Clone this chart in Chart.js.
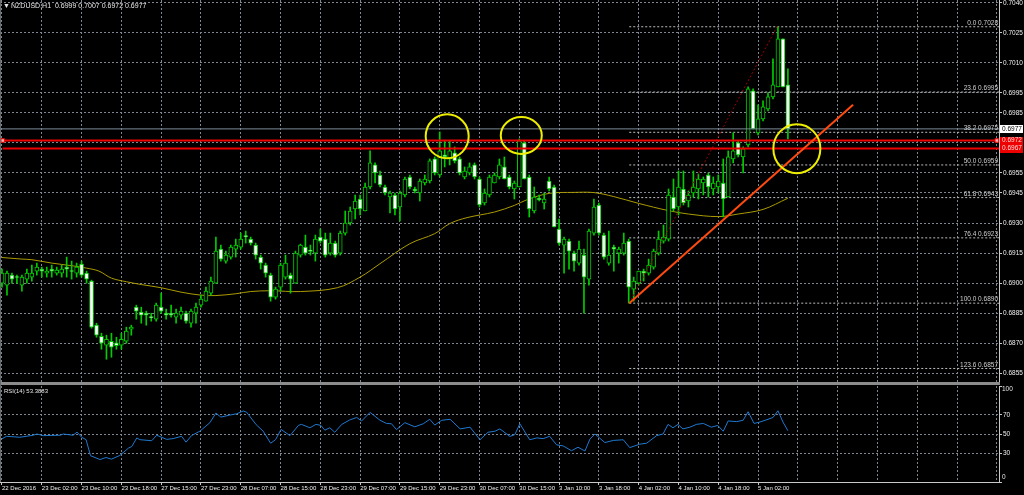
<!DOCTYPE html>
<html>
<head>
<meta charset="utf-8">
<title>NZDUSD H1</title>
<script src="https://cdn.jsdelivr.net/npm/chart.js@4.4.1/dist/chart.umd.min.js"></script>
<style>
  html, body { margin: 0; padding: 0; background: #000; overflow: hidden; }
  #wrap { position: relative; width: 1024px; height: 495px; }
  #priceChart { position: absolute; left: 0; top: 0; }
  #sep { position: absolute; left: 0; top: 382px; width: 1000px; height: 3px; background: #8c8c8c; }
  #edge { position: absolute; left: 0; top: 0; width: 1px; height: 482px; background: #6a6a6a; }
  #rsiChart { position: absolute; left: 0; top: 385px; }
</style>
</head>
<body>
<div id="wrap">
  <canvas id="priceChart" width="1024" height="382"></canvas>
  <div id="sep"></div>
  <canvas id="rsiChart" width="1024" height="110"></canvas>
  <div id="edge"></div>
</div>
<script>
// tick labels
const priceTicks = [0.7040, 0.7025, 0.7010, 0.6995, 0.6985, 0.6970, 0.6955, 0.6945, 0.6930, 0.6915, 0.6900, 0.6885, 0.6870, 0.6855];
const rsiTicks = [0, 30, 50, 70, 100];
const timeLabels = ['22 Dec 2016', '23 Dec 02:00', '23 Dec 10:00', '23 Dec 18:00', '27 Dec 15:00', '27 Dec 23:00',
  '28 Dec 07:00', '28 Dec 15:00', '28 Dec 23:00', '29 Dec 07:00', '29 Dec 15:00', '29 Dec 23:00', '30 Dec 07:00',
  '30 Dec 15:00', '3 Jan 10:00', '3 Jan 18:00', '4 Jan 02:00', '4 Jan 10:00', '4 Jan 18:00', '5 Jan 02:00'];

// hourly candles
const opens = [
  0.6900, 0.6899, 0.6904, 0.69032, 0.6899, 0.6902, 0.6903, 0.6906, 0.6907, 0.6905,
  0.6907, 0.6905, 0.6905, 0.6908, 0.69062, 0.6905, 0.69095, 0.6905, 0.6901, 0.6879,
  0.68735, 0.6869, 0.6871, 0.68702, 0.6869, 0.6871, 0.6877, 0.6888, 0.68855, 0.6885,
  0.68832, 0.6882, 0.6888, 0.6885, 0.6885, 0.6883, 0.6884, 0.6885, 0.6880, 0.6885,
  0.6889, 0.6891, 0.6895, 0.6900, 0.6917, 0.6911, 0.6913, 0.6917, 0.6918, 0.69235,
  0.6922, 0.6919, 0.6913, 0.6909, 0.6904, 0.6893, 0.6898, 0.6903, 0.6904, 0.6900,
  0.6914, 0.6918, 0.69165, 0.6915, 0.6923, 0.6922, 0.6915, 0.6920, 0.6915, 0.6925,
  0.6930, 0.6937, 0.6942, 0.6936, 0.6948, 0.6959, 0.6954, 0.6948, 0.6943, 0.6944,
  0.6938, 0.6944, 0.6953, 0.6947, 0.6945, 0.6950, 0.6951, 0.6962, 0.6954, 0.6964,
  0.6962, 0.6965, 0.6962, 0.6953, 0.6955, 0.6959, 0.6952, 0.6940, 0.6944, 0.6950,
  0.6953, 0.6958, 0.6953, 0.6947, 0.6948, 0.6970, 0.6953, 0.6936, 0.69425, 0.6940,
  0.6951, 0.6948, 0.6927, 0.6919, 0.6921, 0.6915, 0.6910, 0.6914, 0.6902, 0.6925,
  0.6939, 0.6924, 0.6910, 0.6918, 0.6915, 0.6915, 0.6921, 0.6897, 0.6900, 0.6906,
  0.6905, 0.6908, 0.6915, 0.6921, 0.6922, 0.6943, 0.6938, 0.6947, 0.6941, 0.6945,
  0.6947, 0.6950, 0.6954, 0.6947, 0.6948, 0.6950, 0.6943, 0.6962, 0.6970, 0.6963,
  0.6969, 0.6996, 0.6975, 0.6982, 0.6987, 0.6993, 0.6998, 0.7022, 0.6999
];
const highs = [
  0.6907, 0.6906, 0.6905, 0.6904, 0.6904, 0.6907, 0.6909, 0.6910, 0.6908, 0.6908,
  0.6909, 0.6908, 0.6909, 0.6913, 0.6911, 0.6910, 0.6911, 0.6906, 0.69015, 0.6880,
  0.6875, 0.6874, 0.6875, 0.6873, 0.6875, 0.6878, 0.6879, 0.6889, 0.6888, 0.6886,
  0.6885, 0.6890, 0.6895, 0.6887, 0.6889, 0.6887, 0.6888, 0.6886, 0.6887, 0.6890,
  0.6894, 0.6898, 0.6903, 0.6923, 0.6919, 0.6916, 0.6919, 0.6922, 0.6925, 0.6926,
  0.6923, 0.6920, 0.6914, 0.6910, 0.6905, 0.6898, 0.6910, 0.6914, 0.6905, 0.6916,
  0.69195, 0.6924, 0.6919, 0.6924, 0.6927, 0.6925, 0.6925, 0.6921, 0.6926, 0.6936,
  0.6938, 0.6944, 0.6944, 0.6950, 0.6966, 0.6960, 0.6956, 0.6949, 0.6946, 0.6945,
  0.6946, 0.6953, 0.6954, 0.6948, 0.6952, 0.6954, 0.6962, 0.6963, 0.69755, 0.6971,
  0.6971, 0.6968, 0.6963, 0.6958, 0.6960, 0.6960, 0.6953, 0.6947, 0.6954, 0.6955,
  0.6962, 0.6963, 0.6954, 0.6951, 0.6972, 0.6971, 0.6954, 0.6948, 0.6944, 0.6945,
  0.6953, 0.6949, 0.6932, 0.6923, 0.6922, 0.6916, 0.6921, 0.6917, 0.6927, 0.6942,
  0.6940, 0.6925, 0.6926, 0.6919, 0.6918, 0.6925, 0.6922, 0.6903, 0.6906, 0.6907,
  0.6912, 0.6917, 0.6926, 0.6929, 0.6947, 0.6952, 0.6956, 0.6956, 0.6946, 0.6956,
  0.69545, 0.6953, 0.6955, 0.6953, 0.6954, 0.6962, 0.6966, 0.6975, 0.6971, 0.6968,
  0.6998, 0.6997, 0.6989, 0.6991, 0.6995, 0.7012, 0.7028, 0.7022, 0.7007
];
const lows = [
  0.6898, 0.6894, 0.6900, 0.6900, 0.6896, 0.6900, 0.6901, 0.6904, 0.6903, 0.6903,
  0.6903, 0.6904, 0.6903, 0.6903, 0.6902, 0.6903, 0.6903, 0.6900, 0.68775, 0.6873,
  0.6867, 0.6862, 0.6863, 0.6867, 0.6867, 0.6870, 0.6874, 0.6882, 0.6880, 0.6879,
  0.6881, 0.6881, 0.6885, 0.6882, 0.6883, 0.6880, 0.6882, 0.6880, 0.6878, 0.6880,
  0.6888, 0.6891, 0.6894, 0.6900, 0.6911, 0.6910, 0.6912, 0.6913, 0.6917, 0.6920,
  0.6919, 0.6912, 0.6907, 0.6903, 0.6891, 0.6892, 0.6896, 0.6902, 0.6895, 0.6900,
  0.6913, 0.6914, 0.6914, 0.6911, 0.6920, 0.6913, 0.6914, 0.6913, 0.6914, 0.6924,
  0.6929, 0.6932, 0.6934, 0.6936, 0.6947, 0.6950, 0.6948, 0.6944, 0.6935, 0.6934,
  0.6931, 0.6943, 0.6947, 0.6945, 0.6941, 0.6949, 0.6950, 0.6954, 0.6953, 0.6958,
  0.6959, 0.6960, 0.6954, 0.6952, 0.6954, 0.6952, 0.6938, 0.6939, 0.6943, 0.6950,
  0.6952, 0.6952, 0.6947, 0.6942, 0.6948, 0.6952, 0.6933, 0.6935, 0.6941, 0.6937,
  0.6946, 0.6928, 0.6919, 0.6905, 0.6907, 0.6906, 0.6909, 0.6885, 0.6899, 0.6924,
  0.6924, 0.6912, 0.6909, 0.6906, 0.6910, 0.6914, 0.6890, 0.6891, 0.6899, 0.6901,
  0.6904, 0.6907, 0.6914, 0.6920, 0.6921, 0.6936, 0.6934, 0.6939, 0.6938, 0.6943,
  0.6942, 0.6944, 0.6943, 0.6944, 0.6945, 0.6933, 0.6943, 0.6960, 0.6963, 0.6955,
  0.6968, 0.6977, 0.6974, 0.6981, 0.6986, 0.6992, 0.6998, 0.6998, 0.6972
];
const closes = [
  0.6905, 0.6905, 0.6902, 0.69028, 0.6903, 0.6905, 0.6905, 0.6908, 0.6906, 0.6906,
  0.6906, 0.69065, 0.6907, 0.6907, 0.69058, 0.6908, 0.6904, 0.6902, 0.6878, 0.6874,
  0.6870, 0.6872, 0.6868, 0.68688, 0.6872, 0.6876, 0.6878, 0.6886, 0.6884, 0.6884,
  0.68828, 0.6889, 0.6886, 0.6884, 0.6884, 0.6885, 0.6886, 0.6881, 0.6886, 0.6888,
  0.6892, 0.6896, 0.6901, 0.6916, 0.6912, 0.6914, 0.6918, 0.6919, 0.6922, 0.69232,
  0.6920, 0.6914, 0.6910, 0.6905, 0.6893, 0.6897, 0.6909, 0.6910, 0.6902, 0.6915,
  0.6919, 0.6915, 0.69158, 0.6922, 0.6921, 0.6914, 0.6920, 0.6914, 0.6925, 0.6930,
  0.6936, 0.6941, 0.6937, 0.6948, 0.6960, 0.6955, 0.6949, 0.6945, 0.6945, 0.6937,
  0.6945, 0.6952, 0.6948, 0.6946, 0.6951, 0.6952, 0.6961, 0.6955, 0.6966, 0.6963,
  0.6966, 0.6961, 0.6955, 0.6956, 0.6958, 0.6953, 0.6939, 0.6945, 0.6953, 0.6954,
  0.6959, 0.6952, 0.6948, 0.6950, 0.6971, 0.6952, 0.6937, 0.6943, 0.69415, 0.6942,
  0.6947, 0.6928, 0.6920, 0.6922, 0.6916, 0.6911, 0.6917, 0.6903, 0.6926, 0.6938,
  0.6925, 0.6913, 0.6914, 0.6917, 0.6917, 0.6920, 0.6898, 0.6901, 0.6906, 0.6905,
  0.6909, 0.6916, 0.6922, 0.6923, 0.6944, 0.6937, 0.6948, 0.6940, 0.6944, 0.6948,
  0.6952, 0.6952, 0.6948, 0.6950, 0.6951, 0.6942, 0.6963, 0.6966, 0.6964, 0.6967,
  0.6997, 0.6977, 0.6982, 0.6988, 0.6993, 0.6999, 0.7022, 0.6998, 0.6977
];

// moving average, sampled along the yellow curve (bar index, price)
const maIdx = [0, 4, 6, 10, 14, 17, 19.5, 22, 25, 28, 32, 36, 40, 43, 47, 50, 54, 60, 67.4, 72, 76, 82, 87, 90,
  93.5, 99, 103, 105.6, 110, 115, 119, 123, 128, 134, 138, 144, 148, 153, 158];
const maVal = [0.69128, 0.6912, 0.69117, 0.6910, 0.69087, 0.69075, 0.6906, 0.69025, 0.69007, 0.68993, 0.68977,
  0.68955, 0.6894, 0.68938, 0.68947, 0.68958, 0.68962, 0.68958, 0.68977, 0.6903, 0.69097, 0.69197, 0.69247,
  0.69297, 0.69327, 0.69355, 0.69388, 0.69417, 0.69448, 0.69453, 0.69452, 0.69432, 0.69398, 0.69362, 0.69345,
  0.69332, 0.69345, 0.69368, 0.69424];

// RSI(14), sampled along the blue line
const rsiIdx = [0, 0.9, 3.6, 6.3, 7, 8.3, 11.7, 12.3, 14.3, 15.1, 16, 16.9, 17.8, 19.7, 20.9, 22, 23.7, 25.4, 26.1,
  27.1, 27.7, 30.1, 31.1, 33.1, 34.4, 36.1, 37, 38.1, 39.8, 41.8, 43, 44, 45.8, 47.2, 48.5, 49.2, 51.1, 52.5, 54,
  55, 56.1, 57.9, 59.6, 60.2, 61.9, 63.1, 64.1, 64.9, 65.9, 66.9, 68.3, 69.9, 71.3, 72.3, 74, 76, 77.3, 78.3, 79.3,
  81, 83, 84.7, 86, 87, 88.4, 90.1, 92.1, 94.1, 96.1, 97.7, 99.1, 100.1, 102.1, 103.1, 104.1, 106.1, 107.5, 108.8,
  110.1, 111.5, 112.8, 114.5, 115.8, 117.2, 118.2, 119.2, 121.2, 122.9, 124.9, 126.2, 128.2, 129.6, 131.6, 132.9,
  133.9, 134.9, 135.9, 136.9, 138.3, 139.6, 141, 142.6, 143.9, 145, 146, 147.7, 149, 150, 151.2, 152.4, 154, 155,
  156, 157, 158];
const rsiVal = [45, 47.6, 46.6, 48.7, 50, 48.3, 48.7, 50, 48.7, 52, 46.6, 44.1, 27.4, 23.4, 25.5, 23.8, 27.7, 35.2, 37,
  45.9, 44.1, 43, 48.7, 44.4, 45.2, 47.6, 41.5, 48.3, 53, 61.8, 71.8, 67.6, 69.7, 71.1, 74, 72.6, 59.7, 53, 40.4,
  44.1, 54.8, 48.3, 59, 60, 56.5, 60, 59, 54, 56.5, 51.8, 60, 64.6, 67.2, 63.6, 72.5, 64.3, 61, 60.7, 54.6,
  61.8, 57.5, 60.7, 65.3, 59.3, 64.3, 65.3, 55.3, 57.1, 44, 51.8, 52.9, 55.3, 47.5, 49.3, 60.7, 44, 45.9, 45.2,
  47.6, 38.7, 37.6, 32.6, 36.2, 32.3, 44.7, 50, 41.1, 43.3, 44, 35.8, 39.4, 40.4, 48.3, 50,
  60, 56.5, 60, 55.3, 57.1, 60, 61, 57.1, 58.9, 52.9, 63.6, 62.9, 64.3, 73.2, 61, 62.5, 65.3, 67.2,
  74.2, 62.5, 53.3883];

// drawn objects
const fibPct = [0, 23.6, 38.2, 50, 61.8, 76.4, 100, 123.6];
const fibVal = [0.7028, 0.69954, 0.69753, 0.6959, 0.69427, 0.69226, 0.6890, 0.68574];
const fibDiagIdx = [126.1, 155.9];
const fibDiagVal = [0.6890, 0.70284];
const trendIdx = [126.1, 171.1];
const trendVal = [0.6890, 0.6989];
const redLevels = [0.69712, 0.69672];
const redLabels = ['0.6972', '0.6967'];
const circleIdx = [89.5, 104.4, 159.8];
const circlePrice = [0.69733, 0.69737, 0.69671];

const FONT = "'Liberation Sans', 'DejaVu Sans', sans-serif";
const GRID = '#7e8791';
const AXIS = '#c8c8c8';
const CANDLE = '#00cc00';
const X_MIN = -0.402;
const X_MAX = 200.44;
const gridIdx = [];
for (let v = 0; v <= 200; v += 8) gridIdx.push(v);
const last = closes.length - 1;

const xy = (xs, ys) => xs.map((v, k) => ({ x: v, y: ys[k] }));
const hline = (v, from) => [{ x: from, y: v }, { x: X_MAX, y: v }];

function priceDatasets() {
    const sets = [];
    sets.push({
        type: 'bar', label: 'wicks', order: 6,
        data: opens.map((o, i) => ({ x: i, y: [lows[i], highs[i]] })),
        backgroundColor: CANDLE, borderWidth: 0, barThickness: 1, grouped: false
    });
    sets.push({
        type: 'bar', label: 'bodies', order: 5,
        data: opens.map((o, i) => ({ x: i, y: [o, closes[i]] })),
        backgroundColor: opens.map((o, i) => closes[i] >= o ? '#000000' : '#ffffff'),
        borderColor: CANDLE, borderWidth: 1, borderSkipped: false,
        barThickness: 4, minBarLength: 1, grouped: false
    });
    sets.push({
        type: 'line', label: 'MA', order: 7, data: xy(maIdx, maVal),
        borderColor: '#ab9b00', borderWidth: 1, pointRadius: 0, tension: 0.35
    });
    fibVal.forEach(v => sets.push({
        type: 'line', order: 8, data: hline(v, fibDiagIdx[0]),
        borderColor: '#bdbdbd', borderWidth: 1, borderDash: [2, 2], pointRadius: 0
    }));
    sets.push({
        type: 'line', order: 4, data: xy(fibDiagIdx, fibDiagVal),
        borderColor: '#9a0000', borderWidth: 1, borderDash: [2, 2], pointRadius: 0
    });
    sets.push({
        type: 'line', order: 3, data: hline(closes[last], X_MIN),
        borderColor: '#7d8a99', borderWidth: 1, pointRadius: 0
    });
    redLevels.forEach((v, k) => sets.push({
        type: 'line', order: 2, data: [{ x: 0.15, y: v }, { x: 200, y: v }, { x: X_MAX, y: v }],
        borderColor: '#ee0000', borderWidth: 2,
        pointStyle: 'rect', pointRadius: k === 0 ? [2.5, 2.5, 0] : 0,
        pointBackgroundColor: '#ffb0b0', pointBorderColor: '#ff0000', pointBorderWidth: 1
    }));
    sets.push({
        type: 'line', order: 1, data: xy(trendIdx, trendVal),
        borderColor: '#ff4a10', borderWidth: 2, pointRadius: 0
    });
    return sets;
}

const priceOverlay = {
    id: 'priceOverlay',
    afterDatasetsDraw(chart) {
        const { ctx, chartArea } = chart;
        const x = chart.scales.x, y = chart.scales.y;
        ctx.save();
        ctx.font = '6.5px ' + FONT;
        ctx.fillStyle = '#cfcfcf';
        ctx.textAlign = 'right';
        ctx.textBaseline = 'bottom';
        fibPct.forEach((p, k) => {
            ctx.fillText(p.toFixed(1) + ' ' + fibVal[k].toFixed(4), chartArea.right - 1, y.getPixelForValue(fibVal[k]) - 0.5);
        });
        const radii = [[21.5, 22], [20.5, 18.5], [23.5, 24.5]];
        ctx.strokeStyle = '#eeee00';
        ctx.lineWidth = 2;
        circleIdx.forEach((ci, k) => {
            ctx.beginPath();
            ctx.ellipse(x.getPixelForValue(ci), y.getPixelForValue(circlePrice[k]), radii[k][0], radii[k][1], 0, 0, Math.PI * 2);
            ctx.stroke();
        });
        ctx.restore();
    },
    afterDraw(chart) {
        const { ctx, chartArea } = chart;
        const y = chart.scales.y;
        ctx.save();
        ctx.font = '6.5px ' + FONT;
        ctx.textAlign = 'left';
        ctx.textBaseline = 'middle';
        const box = (v, text, bg, fg) => {
            const py = y.getPixelForValue(v);
            ctx.fillStyle = bg;
            ctx.fillRect(chartArea.right + 1, Math.round(py) - 4, 23, 8);
            ctx.fillStyle = fg;
            ctx.fillText(text, chartArea.right + 3, py);
        };
        box(closes[last], closes[last].toFixed(4), '#ffffff', '#000000');
        redLevels.forEach((v, k) => box(v, redLabels[k], '#ee0000', '#ffd8d8'));
        // window title
        ctx.fillStyle = '#e6e6e6';
        ctx.font = '7px ' + FONT;
        ctx.fillText('\u25BC', 3, 6);
        const ohlc = [opens[last], highs[last], lows[last], closes[last]].map(v => v.toFixed(4)).join(' ');
        ctx.fillText('NZDUSD,H1  ' + ohlc, 11, 6);
        ctx.restore();
    }
};

const rsiOverlay = {
    id: 'rsiOverlay',
    afterDraw(chart) {
        const { ctx, chartArea } = chart;
        ctx.save();
        ctx.fillStyle = '#e6e6e6';
        ctx.font = '6px ' + FONT;
        ctx.textAlign = 'left';
        ctx.textBaseline = 'middle';
        ctx.fillText('RSI(14) ' + rsiVal[rsiVal.length - 1].toFixed(4), 4, 6);
        ctx.font = '6.5px ' + FONT;
        ctx.fillText('100', chartArea.right + 3, chartArea.top + 3.5);
        ctx.fillText('0', chartArea.right + 3, chartArea.bottom - 4.5);
        ctx.restore();
    }
};

const commonOpts = {
    responsive: false,
    animation: false,
    events: [],
    devicePixelRatio: 1,
    plugins: { legend: { display: false }, tooltip: { enabled: false } }
};

document.addEventListener('DOMContentLoaded', () => {
    new Chart(document.getElementById('priceChart').getContext('2d'), {
        type: 'bar',
        data: { datasets: priceDatasets() },
        options: {
            ...commonOpts,
            layout: { padding: 0, autoPadding: false },
            scales: {
                x: {
                    type: 'linear', min: X_MIN, max: X_MAX, offset: false,
                    afterBuildTicks: s => { s.ticks = gridIdx.map(v => ({ value: v })); },
                    afterFit: s => { s.height = 0; s.paddingLeft = 0; s.paddingRight = 0; },
                    ticks: { display: false },
                    grid: { color: GRID, drawTicks: false, offset: false },
                    border: { display: false, dash: [2, 2] }
                },
                y: {
                    type: 'linear', position: 'right', min: 0.685064, max: 0.704135, beginAtZero: false,
                    afterBuildTicks: s => { s.ticks = priceTicks.map(v => ({ value: v })); },
                    afterFit: s => { s.width = 25; s.paddingTop = 0; s.paddingBottom = 0; },
                    ticks: { color: '#eeeeee', font: { family: FONT, size: 6.5 }, padding: 1, callback: v => v.toFixed(4) },
                    grid: { color: GRID, tickLength: 3, tickColor: AXIS },
                    border: { display: true, color: AXIS, dash: [2, 2] }
                }
            }
        },
        plugins: [priceOverlay]
    });

    new Chart(document.getElementById('rsiChart').getContext('2d'), {
        type: 'line',
        data: {
            datasets: [{
                data: xy(rsiIdx, rsiVal),
                borderColor: '#1f78d0', borderWidth: 1, pointRadius: 0, tension: 0
            }]
        },
        options: {
            ...commonOpts,
            layout: { padding: { top: 1, left: 0, right: 0, bottom: 0 }, autoPadding: false },
            scales: {
                x: {
                    type: 'linear', min: X_MIN, max: X_MAX, offset: false,
                    afterBuildTicks: s => { s.ticks = gridIdx.map(v => ({ value: v })); },
                    afterFit: s => { s.height = 13; s.paddingLeft = 0; s.paddingRight = 0; },
                    ticks: {
                        autoSkip: false, maxRotation: 0, minRotation: 0, align: 'start', padding: 0,
                        color: '#eeeeee', font: { family: FONT, size: 6 },
                        callback: v => {
                            const k = v / 8;
                            return Number.isInteger(k) && k < timeLabels.length ? timeLabels[k] : '';
                        }
                    },
                    grid: {
                        color: GRID, tickLength: 3, offset: false,
                        tickColor: c => (c.tick && c.tick.value <= 152) ? AXIS : 'rgba(0,0,0,0)'
                    },
                    border: { display: true, color: AXIS, dash: [2, 2] }
                },
                y: {
                    type: 'linear', position: 'right', min: 0, max: 100,
                    afterBuildTicks: s => { s.ticks = rsiTicks.map(v => ({ value: v })); },
                    afterFit: s => { s.width = 25; s.paddingTop = 0; s.paddingBottom = 0; },
                    ticks: {
                        color: '#eeeeee', font: { family: FONT, size: 6.5 }, padding: 1,
                        callback: v => (v === 0 || v === 100) ? '' : String(v)
                    },
                    grid: {
                        color: c => (c.tick && [30, 50, 70].includes(c.tick.value)) ? GRID : 'rgba(0,0,0,0)',
                        tickLength: 3, tickColor: AXIS
                    },
                    border: { display: true, color: AXIS, dash: [2, 2] }
                }
            }
        },
        plugins: [rsiOverlay]
    });
});
</script>
</body>
</html>
